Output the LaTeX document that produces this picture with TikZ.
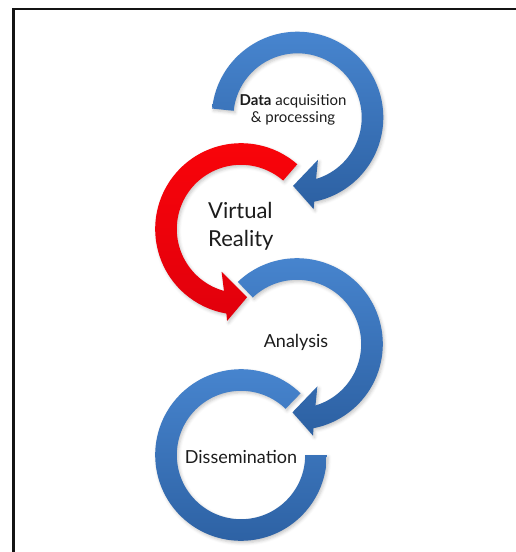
\documentclass[tikz,border=0pt]{standalone}
\usepackage{fontspec}
\setmainfont{Lato}
\usetikzlibrary{shadows.blur}
\definecolor{ringblueA}{RGB}{72,134,208}
\definecolor{ringblueB}{RGB}{44,96,162}
\definecolor{ringredA}{RGB}{250,4,10}
\definecolor{ringredB}{RGB}{225,0,12}
\definecolor{labelink}{RGB}{28,28,28}
\definecolor{frameink}{RGB}{20,20,20}
\begin{document}
\begin{tikzpicture}[x=1pt,y=1pt,
  % curved band from #1 to a head whose inner barb sits at #2; #3 = +1 (ccw) or -1 (cw)
  bandarrow/.style n args={3}{insert path={
    (#1:85.8) arc[start angle=#1, end angle={#2+(#3)*14.6}, radius=85.8]
    -- ({#2+(#3)*15.8}:93) -- ({#2+(#3)*29.5}:68.5) -- (#2:47)
    -- ({#2+(#3)*9}:64.2) arc[start angle={#2+(#3)*9}, end angle=#1, radius=64.2] -- cycle}},
  ringshadow/.style={blur shadow={shadow xshift=1.5pt, shadow yshift=-2pt,
    shadow blur radius=3pt, shadow opacity=22}},
  bluering/.style={top color=ringblueA, bottom color=ringblueB, ringshadow},
  redring/.style={top color=ringredA, bottom color=ringredB, ringshadow},
  ringtext/.style={text=labelink, inner sep=0pt, align=center}
]
\useasboundingbox (0,0) rectangle (516,-552);
\clip (0,0) rectangle (516,-552);

% frame
\draw[frameink, line width=2.2pt] (13.5,-600) -- (13.5,-9) -- (600,-9);

% centres of the four rings
\coordinate (cData) at (297.5,-117.5);
\coordinate (cVR)   at (241,-229);
\coordinate (cAna)  at (297,-344);
\coordinate (cDis)  at (241,-455);

% Dissemination ring (no head)
\begin{scope}[shift={(cDis)}]
  \shade[bluering] (46:85.8) arc[start angle=46, end angle=360, radius=85.8]
    -- (0:64.2) arc[start angle=360, end angle=46, radius=64.2] -- cycle;
\end{scope}

% Analysis ring
\begin{scope}[shift={(cAna)}]
  \shade[bluering] [bandarrow={133.6}{-64.3}{-1}];
\end{scope}

% Virtual reality ring
\begin{scope}[shift={(cVR)}]
  \shade[redring] [bandarrow={49}{245.6}{1}];
\end{scope}

% Data acquisition ring
\begin{scope}[shift={(cData)}]
  \shade[bluering] [bandarrow={174}{-64.2}{-1}];
\end{scope}

% labels
\node[ringtext, font=\fontsize{15}{16.7}\selectfont] (tData) at (293,-110)
  {\textbf{Data} acquisition\\\& processing};
\node[ringtext, align=left, anchor=west, font=\fontsize{22}{28}\selectfont] (tVR) at (208,-226)
  {Virtual\\Reality};
\node[ringtext, font=\fontsize{18}{20}\selectfont] (tAna) at (296,-342) {Analysis};
\node[ringtext, font=\fontsize{18}{20}\selectfont] (tDis) at (241,-457) {Dissemination};
\end{tikzpicture}
\end{document}
